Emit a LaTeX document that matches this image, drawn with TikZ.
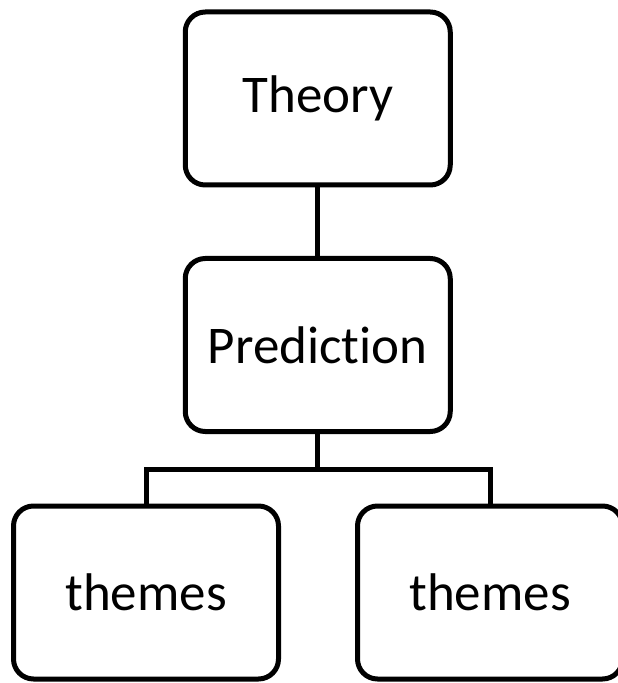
\documentclass[tikz,border=0pt]{standalone}
\usepackage{fontspec}
\setmainfont[Ligatures=NoCommon]{Carlito}
\tikzset{
    stagebox/.style={draw, line width=2.5pt, rounded corners=10pt,
        minimum width=132.5pt, minimum height=86.5pt, inner sep=0pt,
        font=\fontsize{26.5}{30}\selectfont},
    link/.style={line width=2.5pt}
}
\begin{document}
\begin{tikzpicture}[x=0.5pt, y=-0.5pt]
    \useasboundingbox (0, 0) rectangle (617, 683);

    \node[stagebox] (theory) at (317.75, 98.5) {Theory};
    \node[stagebox] (prediction) at (317.75, 345) {Prediction};
    \node[stagebox] (themesl) at (146, 592.5) {themes};
    \node[stagebox] (themesr) at (490, 592.5) {themes};

    \coordinate (split) at (317.75, 469);

    \draw[link] (theory) -- (prediction);
    \draw[link] (prediction) -- (split);
    \draw[link] (themesl.north) |- (split) -| (themesr.north);
\end{tikzpicture}
\end{document}
